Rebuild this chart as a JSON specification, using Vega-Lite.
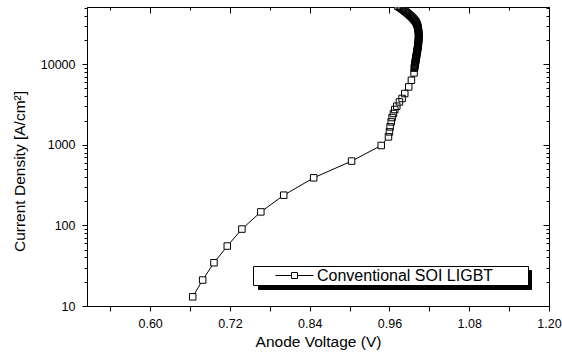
{
  "$schema": "https://vega.github.io/schema/vega-lite/v6.json",
  "width": 462,
  "height": 299,
  "autosize": {"type": "none"},
  "padding": {"left": 87, "top": 7, "right": 13, "bottom": 50},
  "background": "white",
  "config": {
    "view": {"stroke": "black", "strokeWidth": 1},
    "font": "Liberation Sans",
    "axis": {
      "grid": false,
      "domainColor": "black",
      "tickColor": "black",
      "labelColor": "black",
      "titleColor": "black",
      "labelFont": "Liberation Sans",
      "titleFont": "Liberation Sans",
      "labelFontSize": 12.5,
      "titleFontWeight": "normal",
      "labelOverlap": false,
      "labelFlush": false,
      "tickWidth": 1,
      "domainWidth": 1
    }
  },
  "data": {
    "values": [
      {"i": 1, "v": 0.664, "j": 13.0, "s": "Conventional SOI LIGBT"},
      {"i": 2, "v": 0.679, "j": 21.0, "s": "Conventional SOI LIGBT"},
      {"i": 3, "v": 0.696, "j": 34.4, "s": "Conventional SOI LIGBT"},
      {"i": 4, "v": 0.716, "j": 55.4, "s": "Conventional SOI LIGBT"},
      {"i": 5, "v": 0.738, "j": 90, "s": "Conventional SOI LIGBT"},
      {"i": 6, "v": 0.7665, "j": 147, "s": "Conventional SOI LIGBT"},
      {"i": 7, "v": 0.801, "j": 237, "s": "Conventional SOI LIGBT"},
      {"i": 8, "v": 0.846, "j": 389, "s": "Conventional SOI LIGBT"},
      {"i": 9, "v": 0.903, "j": 627, "s": "Conventional SOI LIGBT"},
      {"i": 10, "v": 0.9476, "j": 980, "s": "Conventional SOI LIGBT"},
      {"i": 11, "v": 0.9585, "j": 1253, "s": "Conventional SOI LIGBT"},
      {"i": 12, "v": 0.96, "j": 1445, "s": "Conventional SOI LIGBT"},
      {"i": 13, "v": 0.961, "j": 1667, "s": "Conventional SOI LIGBT"},
      {"i": 14, "v": 0.9626, "j": 1922, "s": "Conventional SOI LIGBT"},
      {"i": 15, "v": 0.964, "j": 2178, "s": "Conventional SOI LIGBT"},
      {"i": 16, "v": 0.966, "j": 2443, "s": "Conventional SOI LIGBT"},
      {"i": 17, "v": 0.968, "j": 2737, "s": "Conventional SOI LIGBT"},
      {"i": 18, "v": 0.971, "j": 3009, "s": "Conventional SOI LIGBT"},
      {"i": 19, "v": 0.975, "j": 3404, "s": "Conventional SOI LIGBT"},
      {"i": 20, "v": 0.979, "j": 3750, "s": "Conventional SOI LIGBT"},
      {"i": 21, "v": 0.983, "j": 4323, "s": "Conventional SOI LIGBT"},
      {"i": 22, "v": 0.989, "j": 5222, "s": "Conventional SOI LIGBT"},
      {"i": 23, "v": 0.993, "j": 6310, "s": "Conventional SOI LIGBT"},
      {"i": 24, "v": 0.997, "j": 7780, "s": "Conventional SOI LIGBT"},
      {"i": 25, "v": 0.9975, "j": 8919, "s": "Conventional SOI LIGBT"},
      {"i": 26, "v": 0.99765, "j": 9175, "s": "Conventional SOI LIGBT"},
      {"i": 27, "v": 0.99795, "j": 9441, "s": "Conventional SOI LIGBT"},
      {"i": 28, "v": 0.99825, "j": 9714, "s": "Conventional SOI LIGBT"},
      {"i": 29, "v": 0.99855, "j": 9995, "s": "Conventional SOI LIGBT"},
      {"i": 30, "v": 0.9987, "j": 10285, "s": "Conventional SOI LIGBT"},
      {"i": 31, "v": 0.999, "j": 10583, "s": "Conventional SOI LIGBT"},
      {"i": 32, "v": 0.99915, "j": 10890, "s": "Conventional SOI LIGBT"},
      {"i": 33, "v": 0.99945, "j": 11205, "s": "Conventional SOI LIGBT"},
      {"i": 34, "v": 0.99975, "j": 11530, "s": "Conventional SOI LIGBT"},
      {"i": 35, "v": 0.9999, "j": 11864, "s": "Conventional SOI LIGBT"},
      {"i": 36, "v": 1.0002, "j": 12208, "s": "Conventional SOI LIGBT"},
      {"i": 37, "v": 1.0005, "j": 12561, "s": "Conventional SOI LIGBT"},
      {"i": 38, "v": 1.00065, "j": 12925, "s": "Conventional SOI LIGBT"},
      {"i": 39, "v": 1.00095, "j": 13300, "s": "Conventional SOI LIGBT"},
      {"i": 40, "v": 1.00125, "j": 13685, "s": "Conventional SOI LIGBT"},
      {"i": 41, "v": 1.0014, "j": 14081, "s": "Conventional SOI LIGBT"},
      {"i": 42, "v": 1.0017, "j": 14488, "s": "Conventional SOI LIGBT"},
      {"i": 43, "v": 1.002, "j": 14908, "s": "Conventional SOI LIGBT"},
      {"i": 44, "v": 1.00215, "j": 15340, "s": "Conventional SOI LIGBT"},
      {"i": 45, "v": 1.00245, "j": 15784, "s": "Conventional SOI LIGBT"},
      {"i": 46, "v": 1.00275, "j": 16241, "s": "Conventional SOI LIGBT"},
      {"i": 47, "v": 1.0029, "j": 16711, "s": "Conventional SOI LIGBT"},
      {"i": 48, "v": 1.0032, "j": 17195, "s": "Conventional SOI LIGBT"},
      {"i": 49, "v": 1.00335, "j": 17693, "s": "Conventional SOI LIGBT"},
      {"i": 50, "v": 1.0035, "j": 18199, "s": "Conventional SOI LIGBT"},
      {"i": 51, "v": 1.0035, "j": 18726, "s": "Conventional SOI LIGBT"},
      {"i": 52, "v": 1.00365, "j": 19268, "s": "Conventional SOI LIGBT"},
      {"i": 53, "v": 1.0038, "j": 19826, "s": "Conventional SOI LIGBT"},
      {"i": 54, "v": 1.0038, "j": 20400, "s": "Conventional SOI LIGBT"},
      {"i": 55, "v": 1.00395, "j": 20991, "s": "Conventional SOI LIGBT"},
      {"i": 56, "v": 1.00395, "j": 21599, "s": "Conventional SOI LIGBT"},
      {"i": 57, "v": 1.00395, "j": 22224, "s": "Conventional SOI LIGBT"},
      {"i": 58, "v": 1.00395, "j": 22868, "s": "Conventional SOI LIGBT"},
      {"i": 59, "v": 1.00395, "j": 23530, "s": "Conventional SOI LIGBT"},
      {"i": 60, "v": 1.0038, "j": 24211, "s": "Conventional SOI LIGBT"},
      {"i": 61, "v": 1.0038, "j": 24912, "s": "Conventional SOI LIGBT"},
      {"i": 62, "v": 1.00365, "j": 25634, "s": "Conventional SOI LIGBT"},
      {"i": 63, "v": 1.0035, "j": 26376, "s": "Conventional SOI LIGBT"},
      {"i": 64, "v": 1.0032, "j": 27140, "s": "Conventional SOI LIGBT"},
      {"i": 65, "v": 1.0029, "j": 27926, "s": "Conventional SOI LIGBT"},
      {"i": 66, "v": 1.0026, "j": 28734, "s": "Conventional SOI LIGBT"},
      {"i": 67, "v": 1.0023, "j": 29566, "s": "Conventional SOI LIGBT"},
      {"i": 68, "v": 1.00185, "j": 30422, "s": "Conventional SOI LIGBT"},
      {"i": 69, "v": 1.00125, "j": 31303, "s": "Conventional SOI LIGBT"},
      {"i": 70, "v": 1.00065, "j": 32210, "s": "Conventional SOI LIGBT"},
      {"i": 71, "v": 0.9999, "j": 33143, "s": "Conventional SOI LIGBT"},
      {"i": 72, "v": 0.999, "j": 34103, "s": "Conventional SOI LIGBT"},
      {"i": 73, "v": 0.9978, "j": 35090, "s": "Conventional SOI LIGBT"},
      {"i": 74, "v": 0.9966, "j": 36106, "s": "Conventional SOI LIGBT"},
      {"i": 75, "v": 0.99525, "j": 37154, "s": "Conventional SOI LIGBT"},
      {"i": 76, "v": 0.99375, "j": 38230, "s": "Conventional SOI LIGBT"},
      {"i": 77, "v": 0.99225, "j": 39337, "s": "Conventional SOI LIGBT"},
      {"i": 78, "v": 0.9906, "j": 40476, "s": "Conventional SOI LIGBT"},
      {"i": 79, "v": 0.9888, "j": 41648, "s": "Conventional SOI LIGBT"},
      {"i": 80, "v": 0.987, "j": 42855, "s": "Conventional SOI LIGBT"},
      {"i": 81, "v": 0.9852, "j": 44096, "s": "Conventional SOI LIGBT"},
      {"i": 82, "v": 0.98325, "j": 45373, "s": "Conventional SOI LIGBT"},
      {"i": 83, "v": 0.9813, "j": 46687, "s": "Conventional SOI LIGBT"},
      {"i": 84, "v": 0.97935, "j": 48039, "s": "Conventional SOI LIGBT"},
      {"i": 85, "v": 0.97725, "j": 49431, "s": "Conventional SOI LIGBT"},
      {"i": 86, "v": 0.975, "j": 50862, "s": "Conventional SOI LIGBT"},
      {"i": 87, "v": 0.97275, "j": 52335, "s": "Conventional SOI LIGBT"}
    ]
  },
  "layer": [
    {
      "mark": {"type": "line", "color": "black", "strokeWidth": 1, "clip": true},
      "encoding": {
        "x": {
          "field": "v", "type": "quantitative",
          "scale": {"domain": [0.505, 1.2], "nice": false, "zero": false},
          "axis": {
            "orient": "bottom",
            "values": [0.54, 0.6, 0.66, 0.72, 0.78, 0.84, 0.9, 0.96, 1.02, 1.08, 1.14, 1.2],
            "labelExpr": "round(datum.value*100) % 12 == 0 ? format(datum.value, '.2f') : ''",
            "tickSize": 5,
            "labelPadding": 6,
            "title": "Anode Voltage (V)",
            "titleFontSize": 15.5,
            "titlePadding": 5
          }
        },
        "y": {
          "field": "j", "type": "quantitative",
          "scale": {"type": "log", "domain": [10, 51170], "nice": false},
          "axis": {
            "orient": "left",
            "values": [10, 20, 30, 40, 50, 60, 70, 80, 90, 100, 200, 300, 400, 500, 600, 700, 800, 900, 1000, 2000, 3000, 4000, 5000, 6000, 7000, 8000, 9000, 10000, 20000, 30000, 40000, 50000],
            "labelExpr": "indexof([10, 100, 1000, 10000], datum.value) >= 0 ? format(datum.value, 'd') : ''",
            "tickSize": {"condition": {"test": "indexof([10, 100, 1000, 10000], datum.value) >= 0", "value": 5}, "value": 3},
            "labelPadding": 7,
            "title": "Current Density [A/cm²]",
            "titleFontSize": 15.5,
            "titlePadding": 13,
            "titleY": 164
          }
        },
        "color": {
          "field": "s", "type": "nominal",
          "scale": {"range": ["black"]},
          "legend": {
            "orient": "none",
            "legendX": 171,
            "legendY": 263,
            "zindex": 0,
            "title": null,
            "strokeColor": "black",
            "fillColor": "black",
            "padding": 1,
            "symbolType": "M-2.375,0H-0.375M0.375,0H2.375M-0.375,-0.375H0.375V0.375H-0.375Z",
            "symbolSize": 256,
            "symbolOffset": 32,
            "labelFontSize": 16,
            "labelFont": "Liberation Sans",
            "labelColor": "black",
            "labelOffset": 217,
            "labelExpr": "'.'",
            "encode": {
              "symbols": {
                "update": {
                  "fill": {"value": "black"},
                  "stroke": {"value": "black"},
                  "shape": {"value": "M-2.375,0H-0.375M0.375,0H2.375M-0.375,-0.375H0.375V0.375H-0.375Z"},
                  "size": {"value": 256},
                  "strokeWidth": {"value": 1}
                }
              }
            }
          }
        },
        "order": {"field": "i", "type": "quantitative"}
      }
    },
    {
      "mark": {"type": "point", "shape": "square", "filled": true, "fill": "white", "strokeWidth": 0, "opacity": 1, "size": 42, "clip": true},
      "encoding": {
        "x": {"field": "v", "type": "quantitative", "axis": null},
        "y": {"field": "j", "type": "quantitative", "axis": null}
      }
    },
    {
      "mark": {"type": "point", "shape": "square", "filled": false, "strokeWidth": 1, "opacity": 1, "size": 42, "clip": true},
      "encoding": {
        "x": {
          "field": "v", "type": "quantitative",
          "axis": {
            "orient": "top",
            "values": [0.54, 0.6, 0.66, 0.72, 0.78, 0.84, 0.9, 0.96, 1.02, 1.08, 1.14, 1.2],
            "labels": false,
            "title": null,
            "tickSize": {"condition": {"test": "round(datum.value*100) % 12 == 0", "value": -6}, "value": -3}
          }
        },
        "y": {
          "field": "j", "type": "quantitative",
          "axis": {
            "orient": "right",
            "values": [10, 20, 30, 40, 50, 60, 70, 80, 90, 100, 200, 300, 400, 500, 600, 700, 800, 900, 1000, 2000, 3000, 4000, 5000, 6000, 7000, 8000, 9000, 10000, 20000, 30000, 40000, 50000],
            "labels": false,
            "title": null,
            "tickSize": {"condition": {"test": "indexof([10, 100, 1000, 10000], datum.value) >= 0", "value": -6}, "value": -3}
          }
        },
        "color": {
          "field": "s", "type": "nominal",
          "scale": {"range": ["black"]},
          "legend": {
            "orient": "none",
            "legendX": 166,
            "legendY": 259,
            "zindex": 1,
            "title": ".",
            "titleOrient": "right",
            "titleFontSize": 4,
            "titleColor": "white",
            "titlePadding": 32,
            "strokeColor": "black",
            "fillColor": "white",
            "padding": 1,
            "symbolType": "M-2.375,0H-0.375M0.375,0H2.375M-0.375,-0.375H0.375V0.375H-0.375Z",
            "symbolSize": 256,
            "symbolStrokeWidth": 1,
            "symbolStrokeColor": "black",
            "symbolFillColor": "white",
            "symbolOffset": 32,
            "labelFontSize": 16,
            "labelFont": "Liberation Sans",
            "labelColor": "black",
            "labelOffset": 14,
            "labelLimit": 400,
            "encode": {
              "symbols": {
                "update": {
                  "fill": {"value": "white"},
                  "stroke": {"value": "black"},
                  "shape": {"value": "M-2.375,0H-0.375M0.375,0H2.375M-0.375,-0.375H0.375V0.375H-0.375Z"},
                  "size": {"value": 256},
                  "strokeWidth": {"value": 1}
                }
              }
            }
          }
        }
      }
    }
  ],
  "resolve": {
    "axis": {"x": "independent", "y": "independent"},
    "scale": {"color": "independent"},
    "legend": {"color": "independent"}
  }
}
